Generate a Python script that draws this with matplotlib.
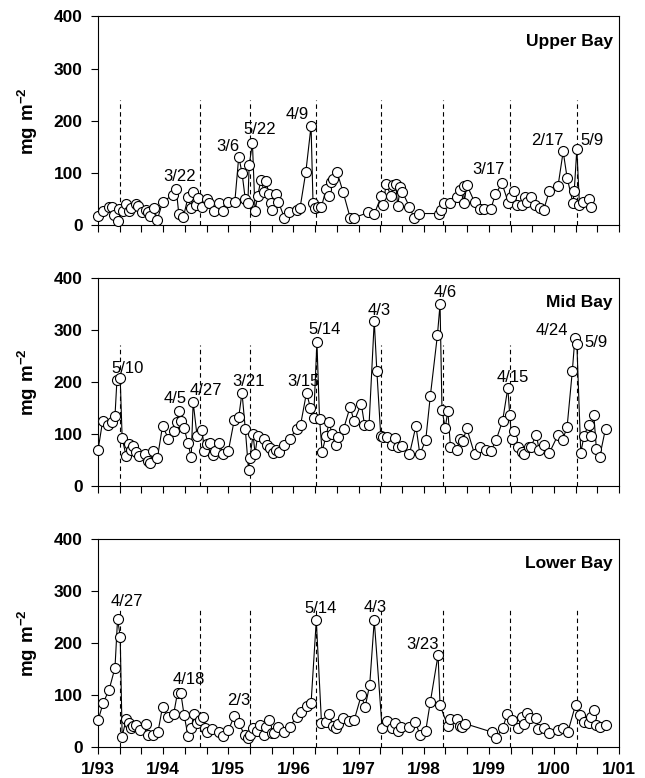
import numpy as np
import matplotlib
matplotlib.use('Agg')
import matplotlib.pyplot as plt

plt.rcParams['font.family'] = ['Liberation Sans', 'DejaVu Sans']
plt.rcParams['mathtext.fontset'] = 'custom'
plt.rcParams['mathtext.bf'] = 'Liberation Sans:bold'
plt.rcParams['mathtext.rm'] = 'Liberation Sans'

# ---- data (decimal year, mg m-2) ----
upper_t = [1993.00, 1993.08, 1993.17, 1993.22, 1993.25, 1993.30, 1993.32, 1993.38, 1993.43, 1993.48,
           1993.51, 1993.58, 1993.62, 1993.67, 1993.73, 1993.77, 1993.79, 1993.86, 1993.91, 1993.99,
           1994.15, 1994.20, 1994.24, 1994.31, 1994.38, 1994.43, 1994.46, 1994.50, 1994.54, 1994.60,
           1994.67, 1994.71, 1994.78, 1994.85, 1994.92,
           1995.00, 1995.10, 1995.16, 1995.21, 1995.26, 1995.30, 1995.32, 1995.37, 1995.41, 1995.45,
           1995.50, 1995.55, 1995.58, 1995.62, 1995.66, 1995.67, 1995.73, 1995.77, 1995.86, 1995.93,
           1996.06, 1996.10, 1996.19, 1996.27, 1996.30, 1996.33, 1996.37, 1996.43, 1996.50, 1996.54,
           1996.57, 1996.61, 1996.67, 1996.76, 1996.87, 1996.93,
           1997.15, 1997.24, 1997.35, 1997.38, 1997.42, 1997.50, 1997.53, 1997.57, 1997.60, 1997.64,
           1997.67, 1997.78, 1997.85, 1997.93,
           1998.23, 1998.27, 1998.31, 1998.40, 1998.51, 1998.56, 1998.61, 1998.62, 1998.66, 1998.78,
           1998.87, 1998.93,
           1999.03, 1999.10, 1999.20, 1999.30, 1999.34, 1999.39, 1999.43, 1999.51, 1999.56, 1999.59,
           1999.64, 1999.71, 1999.78, 1999.84, 1999.93,
           2000.06, 2000.14, 2000.20, 2000.29, 2000.31, 2000.35, 2000.39, 2000.45, 2000.53, 2000.57]
upper_v = [18, 26, 35, 35, 19, 8, 30, 27, 40, 26, 33, 40, 37, 24, 29, 24, 17, 32, 10, 44,
           58, 69, 21, 15, 53, 32, 64, 38, 52, 35, 50, 42, 26, 43, 27,
           45, 45, 131, 100, 50, 42, 115, 157, 27, 55, 87, 64, 85, 59, 42, 29, 59, 44, 14, 24,
           29, 32, 102, 190, 42, 33, 35, 35, 69, 56, 82, 88, 101, 64, 14, 14,
           24, 21, 56, 38, 78, 56, 77, 78, 37, 72, 64, 35, 14, 22,
           22, 29, 42, 42, 53, 67, 74, 42, 77, 44, 31, 31,
           31, 59, 80, 42, 54, 65, 38, 38, 53, 44, 54, 38, 33, 29, 66,
           74, 141, 91, 42, 66, 146, 38, 45, 50, 35]

mid_t = [1993.00, 1993.07, 1993.16, 1993.22, 1993.26, 1993.29, 1993.34, 1993.37, 1993.43, 1993.48,
         1993.51, 1993.54, 1993.58, 1993.63, 1993.72, 1993.77, 1993.80, 1993.85, 1993.91, 1993.99,
         1994.08, 1994.16, 1994.21, 1994.24, 1994.27, 1994.32, 1994.38, 1994.43, 1994.46, 1994.52,
         1994.60, 1994.63, 1994.67, 1994.72, 1994.77, 1994.80, 1994.86, 1994.92,
         1995.00, 1995.09, 1995.16, 1995.21, 1995.26, 1995.31, 1995.33, 1995.38, 1995.41, 1995.45,
         1995.54, 1995.59, 1995.64, 1995.69, 1995.73, 1995.78, 1995.86, 1995.94,
         1996.05, 1996.11, 1996.20, 1996.26, 1996.31, 1996.36, 1996.40, 1996.44, 1996.50, 1996.55,
         1996.59, 1996.65, 1996.69, 1996.77, 1996.87, 1996.93,
         1997.04, 1997.09, 1997.16, 1997.24, 1997.28, 1997.34, 1997.38, 1997.43, 1997.51, 1997.56,
         1997.61, 1997.67, 1997.78, 1997.88, 1997.94,
         1998.03, 1998.10, 1998.21, 1998.25, 1998.28, 1998.33, 1998.37, 1998.41, 1998.51, 1998.55,
         1998.60, 1998.66, 1998.78, 1998.87, 1998.96,
         1999.03, 1999.11, 1999.21, 1999.29, 1999.32, 1999.35, 1999.39, 1999.45, 1999.51, 1999.54,
         1999.61, 1999.64, 1999.73, 1999.77, 1999.84, 1999.93,
         2000.06, 2000.13, 2000.20, 2000.28, 2000.32, 2000.35, 2000.41, 2000.46, 2000.53, 2000.56,
         2000.61, 2000.65, 2000.70, 2000.79]
mid_v = [69, 124, 118, 123, 134, 203, 208, 92, 58, 80, 69, 76, 66, 57, 62, 48, 45, 68, 53, 115,
         91, 105, 123, 144, 124, 112, 82, 55, 161, 96, 107, 67, 80, 82, 60, 67, 82, 62,
         67, 126, 133, 179, 110, 31, 53, 99, 62, 96, 90, 78, 72, 64, 70, 66, 78, 90,
         110, 118, 179, 150, 131, 276, 129, 66, 96, 123, 99, 78, 94, 110, 152, 124,
         158, 118, 117, 317, 220, 96, 94, 94, 78, 93, 75, 76, 61, 115, 61,
         88, 172, 290, 349, 145, 112, 144, 74, 70, 91, 86, 111, 61, 74, 69,
         67, 88, 125, 188, 136, 90, 106, 75, 66, 61, 74, 75, 98, 69, 78, 64,
         98, 88, 113, 220, 284, 273, 64, 96, 118, 96, 137, 71, 56, 110]

low_t = [1993.00, 1993.08, 1993.17, 1993.26, 1993.30, 1993.34, 1993.37, 1993.43, 1993.47, 1993.50,
         1993.54, 1993.59, 1993.65, 1993.73, 1993.76, 1993.85, 1993.92, 1993.99,
         1994.08, 1994.16, 1994.22, 1994.27, 1994.32, 1994.38, 1994.43, 1994.47, 1994.52, 1994.56,
         1994.61, 1994.64, 1994.68, 1994.75, 1994.85, 1994.92,
         1995.00, 1995.09, 1995.16, 1995.25, 1995.30, 1995.33, 1995.38, 1995.44, 1995.49, 1995.54,
         1995.58, 1995.62, 1995.67, 1995.70, 1995.77, 1995.86, 1995.94,
         1996.05, 1996.11, 1996.20, 1996.27, 1996.35, 1996.43, 1996.50, 1996.55, 1996.61, 1996.65,
         1996.68, 1996.76, 1996.86, 1996.93,
         1997.04, 1997.10, 1997.17, 1997.24, 1997.36, 1997.43, 1997.51, 1997.56, 1997.61, 1997.65,
         1997.78, 1997.87, 1997.94,
         1998.03, 1998.10, 1998.22, 1998.25, 1998.37, 1998.41, 1998.51, 1998.55, 1998.59, 1998.63,
         1999.04, 1999.11, 1999.21, 1999.28, 1999.35, 1999.44, 1999.51, 1999.54, 1999.59, 1999.63,
         1999.73, 1999.76, 1999.84, 1999.93,
         2000.06, 2000.13, 2000.21, 2000.33, 2000.40, 2000.46, 2000.53, 2000.57, 2000.61, 2000.65,
         2000.70, 2000.79]
low_v = [51, 85, 110, 152, 246, 212, 20, 53, 47, 37, 41, 43, 32, 45, 24, 24, 29, 77,
         57, 63, 104, 104, 62, 22, 36, 63, 46, 51, 58, 36, 28, 34, 28, 22,
         32, 59, 46, 23, 18, 23, 36, 31, 42, 24, 39, 51, 26, 26, 39, 28, 39,
         58, 67, 79, 84, 243, 47, 48, 63, 41, 36, 45, 56, 50, 51,
         99, 77, 119, 243, 37, 50, 37, 46, 30, 39, 39, 48, 24,
         31, 86, 177, 80, 40, 53, 53, 40, 39, 45,
         29, 18, 36, 63, 51, 36, 57, 44, 66, 55, 55, 34, 37, 27,
         32, 36, 28, 81, 61, 48, 46, 58, 72, 43, 39, 42]

# spring-bloom reference dates (dashed lines)
bloom_dates = [1993.34, 1994.57, 1995.34, 1996.34, 1997.35, 1998.29, 1999.33, 2000.35]

# peak date labels: (text, year, value)
upper_labels = [('3/22', 1994.26, 93), ('3/6', 1995.00, 151), ('5/22', 1995.48, 183),
                ('4/9', 1996.06, 212), ('3/17', 1998.99, 106), ('2/17', 1999.89, 162),
                ('5/9', 2000.59, 162)]
mid_labels = [('5/10', 1993.45, 225), ('4/5', 1994.18, 167), ('4/27', 1994.65, 183),
              ('3/21', 1995.31, 200), ('3/15', 1996.16, 201), ('5/14', 1996.48, 301),
              ('4/3', 1997.31, 337), ('4/6', 1998.33, 371), ('4/15', 1999.37, 209),
              ('4/24', 1999.96, 298), ('5/9', 2000.64, 276)]
low_labels = [('4/27', 1993.45, 280), ('4/18', 1994.40, 130), ('2/3', 1995.16, 90),
              ('5/14', 1996.41, 266), ('4/3', 1997.26, 268), ('3/23', 1997.98, 197)]

year_ticks = list(range(1993, 2002))
year_labels = ['1/93', '1/94', '1/95', '1/96', '1/97', '1/98', '1/99', '1/00', '1/01']

panels = [
    ('Upper Bay', upper_t, upper_v, upper_labels, 240, 0.7108),
    ('Mid Bay', mid_t, mid_v, mid_labels, 270, 0.3753),
    ('Lower Bay', low_t, low_v, low_labels, 265, 0.0398),
]

fig = plt.figure(figsize=(6.45, 7.78), dpi=100)

for i, (name, t, v, labels, dash_top, bottom) in enumerate(panels):
    ax = fig.add_axes([0.152, bottom, 0.808, 0.268])
    ax.vlines(bloom_dates, 0, dash_top, colors='black', linestyles=(0, (4, 3)),
              linewidth=0.8, zorder=1)
    ax.plot(t, v, '-', color='black', linewidth=0.8, marker='o', markersize=7.2,
            markerfacecolor='white', markeredgecolor='black', markeredgewidth=0.8,
            zorder=3, clip_on=False)
    for txt, x, y in labels:
        ax.text(x, y, txt, ha='center', va='center', fontsize=12)
    ax.text(2000.9, 352, name, ha='right', va='center', fontsize=12.5, fontweight='bold')

    ax.set_xlim(1993, 2001)
    ax.set_ylim(0, 400)
    ax.set_yticks([0, 100, 200, 300, 400])
    ax.set_xticks(year_ticks)
    ax.set_xticks(np.arange(1993, 2001.01, 1 / 3), minor=True)
    ax.tick_params(axis='both', which='both', direction='out', length=5, width=0.8)
    ax.tick_params(axis='y', pad=6)
    ax.tick_params(axis='x', pad=6)
    for lab in ax.get_yticklabels():
        lab.set_fontweight('bold')
        lab.set_fontsize(12.5)
    if i == 2:
        ax.set_xticklabels(year_labels, fontweight='bold', fontsize=12.5)
    else:
        ax.set_xticklabels([])
    for sp in ax.spines.values():
        sp.set_linewidth(0.8)
    ax.set_ylabel(r'$\mathbf{mg\ m^{-2}}$', fontsize=13.5)
    ax.yaxis.set_label_coords(-0.112, 0.5)

fig.savefig('out.png', dpi=100)
